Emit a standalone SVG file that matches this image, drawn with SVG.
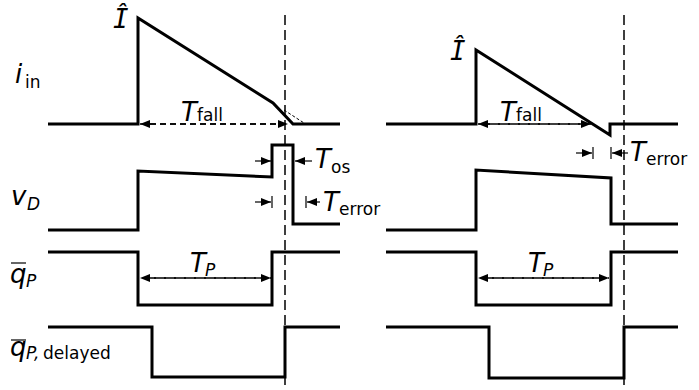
<svg xmlns="http://www.w3.org/2000/svg" width="699" height="390" viewBox="0 0 699 390">
<style>
.sig{fill:none;stroke:#000;stroke-width:3;stroke-linejoin:miter;stroke-linecap:butt}
.vl{fill:none;stroke:#000;stroke-width:1.5;stroke-dasharray:10,5}
.dim{fill:none;stroke:#000;stroke-width:1.4;stroke-dasharray:6,4}
.thin{fill:none;stroke:#000;stroke-width:1.2}
.ext{fill:none;stroke:#000;stroke-width:1;stroke-dasharray:3,2}
text{font-family:"DejaVu Sans","Liberation Sans",sans-serif;fill:#000}
.it{font-style:italic;font-size:26px}
.hat{font-family:"DejaVu Sans Mono","Liberation Mono",monospace;font-style:italic;font-size:26px}
.sub{font-size:17px}
.subi{font-size:17px;font-style:italic}
.arr{fill:#000}
</style>
<defs>
<marker id="ah" markerWidth="10" markerHeight="8" refX="10" refY="4" orient="auto" markerUnits="userSpaceOnUse">
<path d="M0,0 L10,4 L0,8 Z" class="arr"/>
</marker>
</defs>

<g id="labels">
<g id="lbl-iin"><text x="15" y="83" class="it">i</text><text x="25" y="88" class="sub">in</text></g>
<g id="lbl-vD"><text x="11" y="205" class="it">v</text><text x="27" y="210" class="subi">D</text></g>
<g id="lbl-qP"><text x="10" y="283" class="it">q</text><line x1="11" y1="263" x2="26" y2="263" class="thin" stroke-width="1.5"/><text x="26" y="287" class="subi">P</text></g>
<g id="lbl-qPd"><text x="10" y="356" class="it">q</text><line x1="11" y1="340" x2="26" y2="340" class="thin" stroke-width="1.5"/><text x="26" y="359" class="subi">P,</text><text x="43" y="359" class="sub">delayed</text></g>
</g>

<g id="left-signals">
<path id="L-iin" class="sig" d="M48,124 H138 V18 L273,103 L293,124 H340"/>
<path id="L-vD" class="sig" d="M48,230 H138 V171 L272,177 V145 H293 V224 H340"/>
<path id="L-qP" class="sig" d="M48,252 H138 V305 H272 V252 H340"/>
<path id="L-qPd" class="sig" d="M48,327 H152 V377 H285 V327 H340"/>
</g>

<g id="right-signals">
<path id="R-iin" class="sig" d="M386,124 H476 V50 L610,135 V124 H678"/>
<path id="R-vD" class="sig" d="M386,230 H476 V170 L611,178 V224 H678"/>
<path id="R-qP" class="sig" d="M386,252 H476 V305 H611 V252 H678"/>
<path id="R-qPd" class="sig" d="M386,327 H489 V378 H624 V327 H678"/>
</g>

<g id="connectors">
<line class="vl" x1="285" y1="15" x2="285" y2="390"/>
<line class="vl" x1="624" y1="15" x2="624" y2="390"/>
<line class="ext" x1="284" y1="110" x2="304" y2="123"/>
<line class="dim" x1="150" y1="124" x2="288" y2="124" marker-end="url(#ah)"/>
<line class="dim" x1="276" y1="124" x2="140" y2="124" marker-end="url(#ah)"/>
<line class="dim" x1="488" y1="124" x2="591" y2="124" marker-end="url(#ah)"/>
<line class="dim" x1="580" y1="124" x2="478" y2="124" marker-end="url(#ah)"/>
<line class="dim" x1="150" y1="278" x2="271" y2="278" marker-end="url(#ah)"/>
<line class="dim" x1="260" y1="278" x2="140" y2="278" marker-end="url(#ah)"/>
<line class="dim" x1="488" y1="278" x2="609" y2="278" marker-end="url(#ah)"/>
<line class="dim" x1="598" y1="278" x2="478" y2="278" marker-end="url(#ah)"/>
<line class="thin" x1="255" y1="161" x2="271" y2="161" marker-end="url(#ah)"/>
<line class="thin" x1="312" y1="161" x2="295" y2="161" marker-end="url(#ah)"/>
<line class="thin" x1="255" y1="202" x2="271" y2="202" marker-end="url(#ah)"/>
<line class="thin" x1="272" y1="196" x2="272" y2="208"/>
<line class="thin" x1="320" y1="202" x2="307" y2="202" marker-end="url(#ah)"/>
<line class="thin" x1="306" y1="196" x2="306" y2="208"/>
<line class="thin" x1="576" y1="153" x2="592" y2="153" marker-end="url(#ah)"/>
<line class="thin" x1="593" y1="147" x2="593" y2="159"/>
<line class="thin" x1="628" y1="153" x2="612" y2="153" marker-end="url(#ah)"/>
<line class="thin" x1="611" y1="147" x2="611" y2="159"/>
</g>

<g id="annotations">
<text x="113" y="28" class="hat">Î</text>
<text x="450" y="60" class="hat">Î</text>
<g><text x="181" y="121" class="it">T</text><text x="197" y="121" class="sub">fall</text></g>
<g><text x="500" y="121" class="it">T</text><text x="516" y="121" class="sub">fall</text></g>
<g><text x="315" y="168" class="it">T</text><text x="331" y="173" class="sub">os</text></g>
<g><text x="323" y="211" class="it">T</text><text x="339" y="215" class="sub">error</text></g>
<g><text x="630" y="161" class="it">T</text><text x="646" y="165" class="sub">error</text></g>
<g><text x="190" y="272" class="it">T</text><text x="205" y="276" class="subi">P</text></g>
<g><text x="528" y="272" class="it">T</text><text x="543" y="276" class="subi">P</text></g>
</g>
</svg>
